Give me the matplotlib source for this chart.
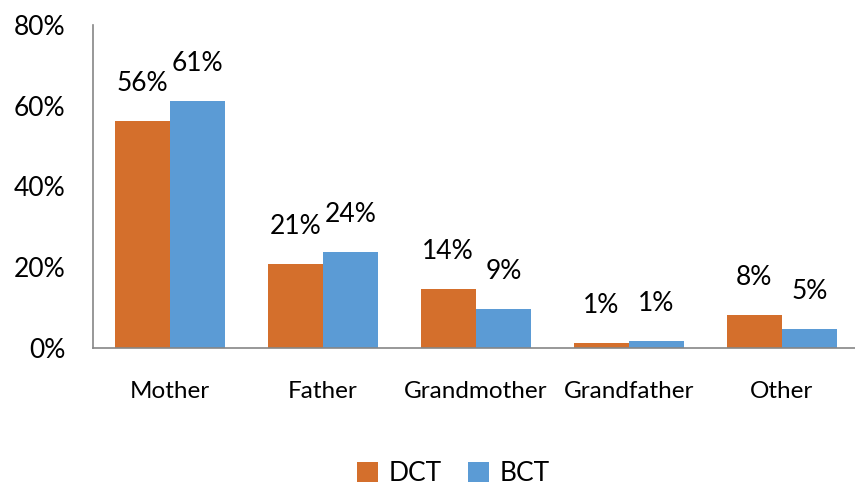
import numpy as np
import matplotlib.pyplot as plt

categories = ['Mother', 'Father', 'Grandmother', 'Grandfather', 'Other']
dct = [56.3, 20.7, 14.6, 1.2, 8.1]
bct = [61.2, 23.7, 9.6, 1.7, 4.7]
dct_labels = ['56%', '21%', '14%', '1%', '8%']
bct_labels = ['61%', '24%', '9%', '1%', '5%']
yticks = [0, 20, 40, 60, 80]

plt.rcParams['font.family'] = ['Lato', 'DejaVu Sans']
fs = 19

fig = plt.figure(figsize=(8.55, 4.88), dpi=100)
ax = fig.add_axes([0.109, 0.287, 0.895, 0.662])

x = np.arange(len(categories))
w = 0.36
b1 = ax.bar(x - w / 2, dct, w, color='#D46F2C', label='DCT')
b2 = ax.bar(x + w / 2, bct, w, color='#5B9BD5', label='BCT')

ax.bar_label(b1, labels=dct_labels, padding=18, fontsize=fs)
ax.bar_label(b2, labels=bct_labels, padding=18, fontsize=fs)

ax.set_xlim(-0.5, len(categories) - 0.5)
ax.set_ylim(0, 80)
ax.set_yticks(yticks)
ax.set_yticklabels([f'{v}%' for v in yticks], fontsize=fs)
ax.set_xticks(x)
ax.set_xticklabels(categories, fontsize=17.5)
ax.tick_params(axis='x', length=0, pad=24)
ax.tick_params(axis='y', length=0, pad=20)

for s in ['top', 'right']:
    ax.spines[s].set_visible(False)
for s in ['left', 'bottom']:
    ax.spines[s].set_color('#868686')
    ax.spines[s].set_linewidth(1.2)

fig.legend(loc='lower center', bbox_to_anchor=(0.53, -0.045), ncol=2, frameon=False,
           fontsize=fs, handlelength=0.8, handleheight=0.8, columnspacing=1.0, handletextpad=0.4)

fig.savefig('out.png', dpi=100)
